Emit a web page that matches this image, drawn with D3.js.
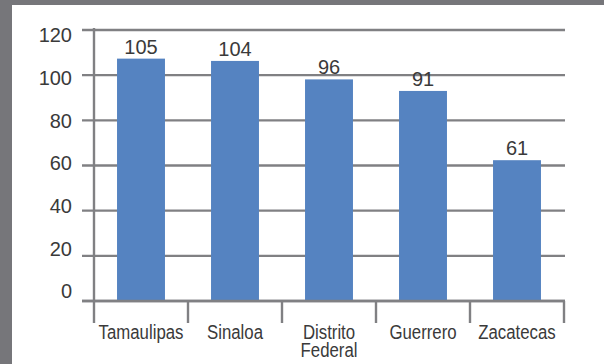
<!DOCTYPE html>
<html>
<head>
<meta charset="utf-8">
<script src="https://cdn.jsdelivr.net/npm/d3@7"></script>
<style>
  html, body { margin: 0; padding: 0; background: #76767a; }
  svg { display: block; }
</style>
</head>
<body>
<svg id="chart" width="604" height="364"></svg>
<script>
// Data
const categories = ["Tamaulipas", "Sinaloa", "Distrito Federal", "Guerrero", "Zacatecas"];
const values = [105, 104, 96, 91, 61];
const yTicks = [0, 20, 40, 60, 80, 100, 120];

const svg = d3.select("#chart");
const W = 604, H = 364;

// Frame: gray border on top and left, white panel
svg.append("rect").attr("x", 0).attr("y", 0).attr("width", W).attr("height", H).attr("fill", "#76767a");
svg.append("rect").attr("x", 12).attr("y", 5).attr("width", W - 12).attr("height", H - 5).attr("fill", "#ffffff");

const gridColor = "#808083";
const textColor = "#3a3a3a";
const plotLeft = 94, plotRight = 564, gridLeft = 82, gridRight = 565;

// Scales
const x = d3.scaleBand().domain(categories).range([plotLeft, plotRight]).padding(0);
const yGrid = d3.scaleLinear().domain([0, 120]).range([301, 30]);
const yBar = d3.scaleLinear().domain([0, 120]).range([301, 24]);
const yLabel = d3.scaleLinear().domain([0, 120]).range([291.5, 35.5]);

// Horizontal gridlines
svg.append("g").selectAll("line").data(yTicks).join("line")
  .attr("x1", gridLeft).attr("x2", gridRight)
  .attr("y1", d => yGrid(d)).attr("y2", d => yGrid(d))
  .attr("stroke", gridColor).attr("stroke-width", 2.4);

// Bars
const barW = x.bandwidth() * 0.51;
svg.append("g").selectAll("rect").data(values).join("rect")
  .attr("x", (d, i) => x(categories[i]) + (x.bandwidth() - barW) / 2)
  .attr("width", barW)
  .attr("y", d => yBar(d))
  .attr("height", d => yBar(0) - yBar(d))
  .attr("fill", "#5583c1");

// Baseline redrawn over bar feet
svg.append("line")
  .attr("x1", gridLeft).attr("x2", gridRight)
  .attr("y1", yGrid(0)).attr("y2", yGrid(0))
  .attr("stroke", gridColor).attr("stroke-width", 2.4);

// Vertical axis line
svg.append("line")
  .attr("x1", plotLeft).attr("x2", plotLeft)
  .attr("y1", 28).attr("y2", 323)
  .attr("stroke", gridColor).attr("stroke-width", 2.4);

// Category separator ticks
const bounds = categories.map(c => x(c) + x.bandwidth());
svg.append("g").selectAll("line").data(bounds).join("line")
  .attr("x1", d => d).attr("x2", d => d)
  .attr("y1", yGrid(0)).attr("y2", 323)
  .attr("stroke", gridColor).attr("stroke-width", 2.4);

// Y tick labels
const yAxis = d3.axisLeft(yLabel).tickValues(yTicks).tickSize(0).tickPadding(0);
const gy = svg.append("g").attr("transform", "translate(72,0)").call(yAxis);
gy.select(".domain").remove();
gy.selectAll("text")
  .attr("font-family", "'Liberation Sans', Arial, sans-serif")
  .attr("font-size", 20)
  .attr("fill", textColor);

// Value labels
svg.append("g").selectAll("text").data(values).join("text")
  .attr("x", (d, i) => x(categories[i]) + x.bandwidth() / 2)
  .attr("y", d => yBar(d) - 5)
  .attr("text-anchor", "middle")
  .attr("font-family", "'Liberation Sans', Arial, sans-serif")
  .attr("font-size", 20)
  .attr("fill", textColor)
  .text(d => d);

// Category labels in a condensed face, wrapped to the band width
const condense = 0.8;
const catG = svg.append("g");
categories.forEach(c => {
  const cx = x(c) + x.bandwidth() / 2;
  const t = catG.append("text")
    .attr("transform", `translate(${cx},339) scale(${condense},1)`)
    .attr("text-anchor", "middle")
    .attr("font-family", "'Liberation Sans', Arial, sans-serif")
    .attr("font-size", 21)
    .attr("fill", textColor);
  const words = c.split(" ");
  let line = [];
  let tspan = t.append("tspan").attr("x", 0).attr("dy", 0);
  words.forEach(w => {
    line.push(w);
    tspan.text(line.join(" "));
    if (tspan.node().getComputedTextLength() * condense > x.bandwidth() - 4 && line.length > 1) {
      line.pop();
      tspan.text(line.join(" "));
      line = [w];
      tspan = t.append("tspan").attr("x", 0).attr("dy", 18).text(w);
    }
  });
});
</script>
</body>
</html>
